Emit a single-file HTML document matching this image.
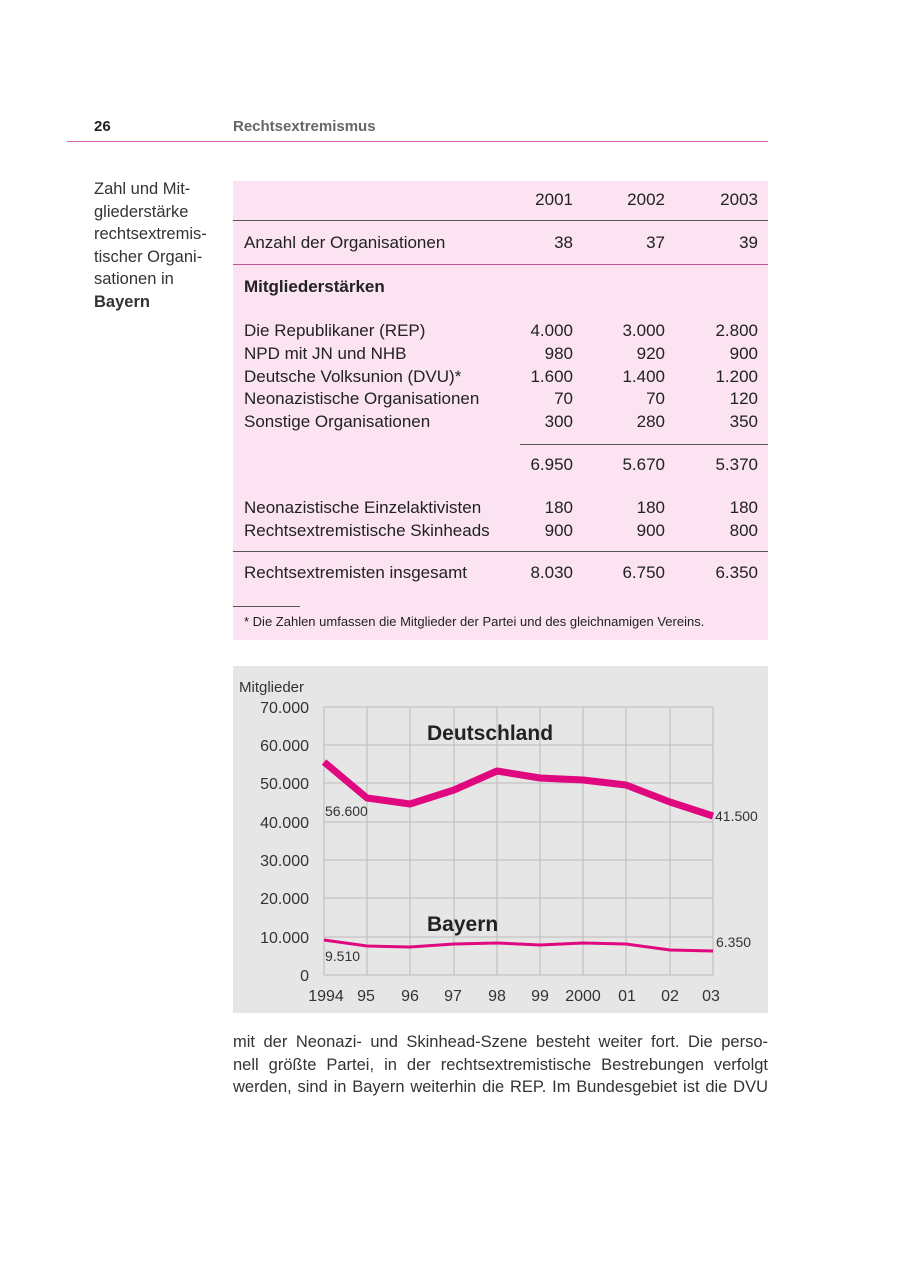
<!DOCTYPE html>
<html><head><meta charset="utf-8"><style>
body{margin:0;width:900px;height:1273px;background:#fff;font-family:"Liberation Sans",sans-serif;color:#222;position:relative;overflow:hidden}
.a{position:absolute;white-space:nowrap}
.t{font-size:17px}
.n{position:absolute;font-size:17px;text-align:right;width:80px}
</style></head><body>
<div class="a" style="left:94px;top:118px;font-size:15px;font-weight:bold">26</div>
<div class="a" style="left:233px;top:118px;font-size:15px;font-weight:bold;color:#666">Rechtsextremismus</div>
<div class="a" style="left:67px;top:141px;width:701px;height:1px;background:#d45fa8"></div>
<div class="a" style="left:94px;top:178px;font-size:16.5px;line-height:22.5px;color:#333">Zahl und Mit-<br>gliederstärke<br>rechtsextremis-<br>tischer Organi-<br>sationen in<br><b>Bayern</b></div>
<div class="a" style="left:233px;top:181px;width:535px;height:459px;background:#fbe3f1"></div>
<div class="a" style="left:233px;top:220px;width:535px;height:1px;background:#555"></div>
<div class="a" style="left:233px;top:264px;width:535px;height:1px;background:#c0559a"></div>
<div class="a" style="left:520px;top:444px;width:248px;height:1px;background:#555"></div>
<div class="a" style="left:233px;top:551px;width:535px;height:1px;background:#555"></div>
<div class="a" style="left:233px;top:606px;width:67px;height:1px;background:#555"></div>
<div class="a t" style="left:244px;top:233px">Anzahl der Organisationen</div>
<div class="a t" style="left:244px;top:277px;font-weight:bold">Mitgliederstärken</div>
<div class="a t" style="left:244px;top:320px;line-height:22.8px">Die Republikaner (REP)<br>NPD mit JN und NHB<br>Deutsche Volksunion (DVU)*<br>Neonazistische Organisationen<br>Sonstige Organisationen</div>
<div class="a t" style="left:244px;top:497px;line-height:22.8px">Neonazistische Einzelaktivisten<br>Rechtsextremistische Skinheads</div>
<div class="a t" style="left:244px;top:563px">Rechtsextremisten insgesamt</div>
<div class="a" style="left:244px;top:614px;font-size:13px">* Die Zahlen umfassen die Mitglieder der Partei und des gleichnamigen Vereins.</div>

<div class="n" style="left:493px;top:190px">2001</div><div class="n" style="left:585px;top:190px">2002</div><div class="n" style="left:678px;top:190px">2003</div>
<div class="n" style="left:493px;top:233px">38</div><div class="n" style="left:585px;top:233px">37</div><div class="n" style="left:678px;top:233px">39</div>
<div class="n" style="left:493px;top:320px;line-height:22.8px">4.000<br>980<br>1.600<br>70<br>300</div>
<div class="n" style="left:585px;top:320px;line-height:22.8px">3.000<br>920<br>1.400<br>70<br>280</div>
<div class="n" style="left:678px;top:320px;line-height:22.8px">2.800<br>900<br>1.200<br>120<br>350</div>
<div class="n" style="left:493px;top:455px">6.950</div><div class="n" style="left:585px;top:455px">5.670</div><div class="n" style="left:678px;top:455px">5.370</div>
<div class="n" style="left:493px;top:497px;line-height:22.8px">180<br>900</div>
<div class="n" style="left:585px;top:497px;line-height:22.8px">180<br>900</div>
<div class="n" style="left:678px;top:497px;line-height:22.8px">180<br>800</div>
<div class="n" style="left:493px;top:563px">8.030</div><div class="n" style="left:585px;top:563px">6.750</div><div class="n" style="left:678px;top:563px">6.350</div>

<svg class="a" style="left:0;top:0" width="900" height="1273">
<rect x="233" y="666" width="535" height="347" fill="#e6e6e6"/>
<g stroke="#bbb" stroke-width="1">
<line x1="324" y1="707" x2="713" y2="707"/><line x1="324" y1="745" x2="713" y2="745"/><line x1="324" y1="783" x2="713" y2="783"/><line x1="324" y1="822" x2="713" y2="822"/><line x1="324" y1="860" x2="713" y2="860"/><line x1="324" y1="898" x2="713" y2="898"/><line x1="324" y1="937" x2="713" y2="937"/><line x1="324" y1="975" x2="713" y2="975"/>
<line x1="324" y1="707" x2="324" y2="975"/><line x1="367" y1="707" x2="367" y2="975"/><line x1="410" y1="707" x2="410" y2="975"/><line x1="454" y1="707" x2="454" y2="975"/><line x1="497" y1="707" x2="497" y2="975"/><line x1="540" y1="707" x2="540" y2="975"/><line x1="583" y1="707" x2="583" y2="975"/><line x1="626" y1="707" x2="626" y2="975"/><line x1="670" y1="707" x2="670" y2="975"/><line x1="713" y1="707" x2="713" y2="975"/>
</g>
<polyline fill="none" stroke="#e0087f" stroke-width="7" stroke-linejoin="round" points="324,762 367,798 410,804 454,790 497,771 540,778 583,780 626,785 670,802 713,816"/>
<polyline fill="none" stroke="#e0087f" stroke-width="3" points="324,940 367,946 410,947 454,944 497,943 540,945 583,943 626,944 670,950 713,951"/>
<g font-family="Liberation Sans, sans-serif" fill="#333">
<text x="239" y="692" font-size="15">Mitglieder</text>
<g font-size="16" text-anchor="end"><text x="309" y="713">70.000</text><text x="309" y="751">60.000</text><text x="309" y="789">50.000</text><text x="309" y="828">40.000</text><text x="309" y="866">30.000</text><text x="309" y="904">20.000</text><text x="309" y="943">10.000</text><text x="309" y="981">0</text></g>
<g font-size="16" text-anchor="middle"><text x="326" y="1001">1994</text><text x="366" y="1001">95</text><text x="410" y="1001">96</text><text x="453" y="1001">97</text><text x="497" y="1001">98</text><text x="540" y="1001">99</text><text x="583" y="1001">2000</text><text x="627" y="1001">01</text><text x="670" y="1001">02</text><text x="711" y="1001">03</text></g>
<text x="427" y="740" font-size="21" font-weight="bold" fill="#222">Deutschland</text>
<text x="427" y="931" font-size="21" font-weight="bold" fill="#222">Bayern</text>
<g font-size="14"><text x="325" y="816">56.600</text><text x="715" y="821">41.500</text><text x="325" y="961">9.510</text><text x="716" y="947">6.350</text></g>
</g>
</svg>
<div class="a" style="left:233px;top:1031px;font-size:16.5px;line-height:22.5px;color:#333">
<div style="width:535px;text-align:justify;text-align-last:justify">mit der Neonazi- und Skinhead-Szene besteht weiter fort. Die perso-</div>
<div style="width:535px;text-align:justify;text-align-last:justify">nell größte Partei, in der rechtsextremistische Bestrebungen verfolgt</div>
<div style="width:535px;text-align:justify;text-align-last:justify">werden, sind in Bayern weiterhin die REP. Im Bundesgebiet ist die DVU</div>
</div>
</body></html>
